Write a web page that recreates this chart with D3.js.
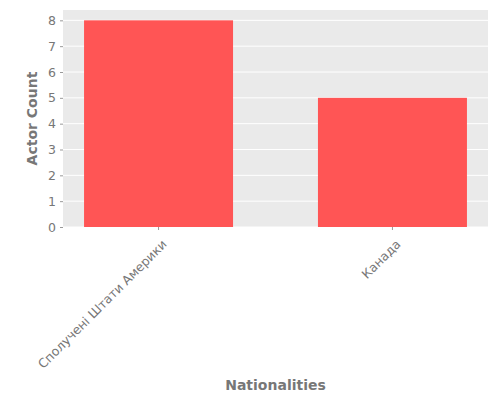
<!DOCTYPE html>
<html>
<head>
<meta charset="utf-8">
<script src="https://cdn.jsdelivr.net/npm/d3@7"></script>
<style>
  body { margin: 0; background: #fff; }
  text { font-family: "DejaVu Sans", sans-serif; }
</style>
</head>
<body>
<svg id="chart"></svg>
<script>
// data
const countries = ["Сполучені Штати Америки", "Канада"];
const actorCounts = [8, 5];
const yTicks = [0, 1, 2, 3, 4, 5, 6, 7, 8];

const width = 500, height = 400;
const margin = {top: 10, right: 12, bottom: 173, left: 63};

let svg = d3.select("#chart")
  .attr("width", width)
  .attr("height", height);

const plotW = width - margin.left - margin.right;
const plotH = height - margin.top - margin.bottom;

let x = d3.scaleBand()
  .domain(countries)
  .range([0, plotW])
  .paddingInner(0.363)
  .paddingOuter(0.09);

let y = d3.scaleLinear()
  .domain([0, 8.4])
  .range([plotH, 0]);

let g = svg.append("g")
  .attr("transform", "translate(" + margin.left + "," + margin.top + ")");

// grey panel
g.append("rect")
  .attr("width", plotW)
  .attr("height", plotH)
  .attr("fill", "#eaeaea");

// white grid lines
g.selectAll(".grid")
  .data(yTicks)
  .enter()
  .append("line")
  .attr("x1", 0)
  .attr("x2", plotW)
  .attr("y1", d => y(d))
  .attr("y2", d => y(d))
  .attr("stroke", "#fff")
  .attr("stroke-width", 1);

// bars
g.selectAll(".bar")
  .data(countries)
  .enter()
  .append("rect")
  .attr("x", d => x(d))
  .attr("width", x.bandwidth())
  .attr("y", (d, i) => y(actorCounts[i]))
  .attr("height", (d, i) => y(0) - y(actorCounts[i]))
  .attr("fill", "#ff5555");

// y axis
let yAxis = g.append("g")
  .call(d3.axisLeft(y).tickValues(yTicks).tickSize(3).tickPadding(4).tickFormat(d3.format("d")));
yAxis.select(".domain").remove();
yAxis.selectAll("line").attr("stroke", "#999");
yAxis.selectAll("text").attr("fill", "#777").style("font-size", "12.5px");

// x axis
let xAxis = g.append("g")
  .attr("transform", "translate(0," + plotH + ")")
  .call(d3.axisBottom(x).tickSize(3).tickPadding(4));
xAxis.select(".domain").remove();
xAxis.selectAll("line").attr("stroke", "#999");
xAxis.selectAll("text")
  .attr("fill", "#777")
  .style("font-size", "12.5px")
  .attr("text-anchor", "end")
  .attr("dy", "0.35em")
  .attr("transform", "translate(1,10) rotate(-45)");

// axis titles
svg.append("text")
  .attr("transform", "translate(37," + (margin.top + plotH / 2) + ") rotate(-90)")
  .attr("text-anchor", "middle")
  .attr("fill", "#777")
  .style("font-size", "14px")
  .style("font-weight", "bold")
  .text("Actor Count");

svg.append("text")
  .attr("x", margin.left + plotW / 2)
  .attr("y", 390)
  .attr("text-anchor", "middle")
  .attr("fill", "#777")
  .style("font-size", "14px")
  .style("font-weight", "bold")
  .text("Nationalities");
</script>
</body>
</html>
